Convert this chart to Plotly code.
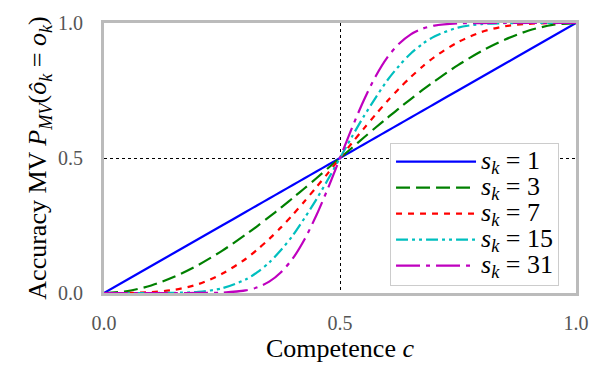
import plotly.graph_objects as go

c_vals = [0.0, 0.05, 0.1, 0.15, 0.2, 0.25, 0.3, 0.325, 0.35, 0.375, 0.4, 0.425, 0.45, 0.475, 0.5,
          0.525, 0.55, 0.575, 0.6, 0.625, 0.65, 0.675, 0.7, 0.75, 0.8, 0.85, 0.9, 0.95, 1.0]

p_s1 = [0.0, 0.05, 0.1, 0.15, 0.2, 0.25, 0.3, 0.325, 0.35, 0.375, 0.4, 0.425, 0.45, 0.475, 0.5,
        0.525, 0.55, 0.575, 0.6, 0.625, 0.65, 0.675, 0.7, 0.75, 0.8, 0.85, 0.9, 0.95, 1.0]
p_s3 = [0.0, 0.007, 0.028, 0.061, 0.104, 0.156, 0.216, 0.248, 0.282, 0.316, 0.352, 0.388, 0.425, 0.463, 0.5,
        0.537, 0.575, 0.612, 0.648, 0.684, 0.718, 0.752, 0.784, 0.844, 0.896, 0.939, 0.972, 0.993, 1.0]
p_s7 = [0.0, 0.0002, 0.003, 0.012, 0.033, 0.071, 0.126, 0.161, 0.200, 0.243, 0.290, 0.340, 0.392, 0.445, 0.5,
        0.555, 0.608, 0.660, 0.710, 0.757, 0.800, 0.839, 0.874, 0.929, 0.967, 0.988, 0.997, 0.9998, 1.0]
p_s15 = [0.0, 0.0, 0.00003, 0.0006, 0.0042, 0.0173, 0.050, 0.077, 0.113, 0.159, 0.213, 0.278, 0.347, 0.422, 0.5,
         0.578, 0.653, 0.722, 0.787, 0.841, 0.887, 0.923, 0.950, 0.983, 0.996, 0.9994, 1.0, 1.0, 1.0]
p_s31 = [0.0, 0.0, 0.0, 0.0, 0.0001, 0.0013, 0.0095, 0.021, 0.042, 0.077, 0.128, 0.199, 0.288, 0.390, 0.5,
         0.610, 0.712, 0.801, 0.872, 0.923, 0.958, 0.979, 0.9905, 0.9987, 0.9999, 1.0, 1.0, 1.0, 1.0]

series_names = ["1", "3", "7", "15", "31"]
series_values = [p_s1, p_s3, p_s7, p_s15, p_s31]
colors = ["#0000ff", "#008000", "#ff0000", "#00bfbf", "#bf00bf"]
dashes = ["solid", "14px,6px", "6px,6px", "12px,4px,3px,4px,3px,4px", "24px,6px,4px,6px"]

tick_vals = [0.0, 0.5, 1.0]
tick_text = ["0.0", "0.5", "1.0"]

serif = "Liberation Serif, Times New Roman, serif"

fig = go.Figure()
for name, vals, col, dsh in zip(series_names, series_values, colors, dashes):
    fig.add_trace(go.Scatter(
        x=c_vals, y=vals, mode="lines",
        name=f"<span style='font-size:26px'><i>s<sub>k</sub></i> = {name}</span>",
        line=dict(color=col, width=2.2, dash=dsh, shape="spline", smoothing=0.8),
    ))

axis_common = dict(
    range=[0, 1], tickvals=tick_vals, ticktext=tick_text,
    showgrid=True, gridcolor="black", griddash="dot", gridwidth=1,
    zeroline=False, showline=True, linecolor="#bbbbbb", linewidth=3, mirror=True,
    ticks="outside", tickcolor="rgba(0,0,0,0)",
    tickfont=dict(family=serif, size=20, color="#555555"),
)

fig.update_layout(
    width=603, height=374,
    margin=dict(l=104, r=27, t=13, b=81),
    paper_bgcolor="white", plot_bgcolor="white",
    font=dict(family=serif, color="black"),
    xaxis=dict(axis_common, ticklen=10,
               title=dict(text="Competence <i>c</i>", font=dict(family=serif, size=26), standoff=6)),
    yaxis=dict(axis_common, ticklen=14,
               title=dict(text="Accuracy MV <i>P<sub>MV</sub></i>(<i>ô<sub>k</sub></i> = <i>o<sub>k</sub></i>)",
                          font=dict(family=serif, size=26), standoff=4)),
    legend=dict(x=0.606, y=0.557, xanchor="left", yanchor="top",
                bgcolor="white", bordercolor="#cccccc", borderwidth=1,
                font=dict(family=serif, size=17.7), tracegroupgap=0, itemwidth=80),
    showlegend=True,
)

fig.write_html("out.html")
